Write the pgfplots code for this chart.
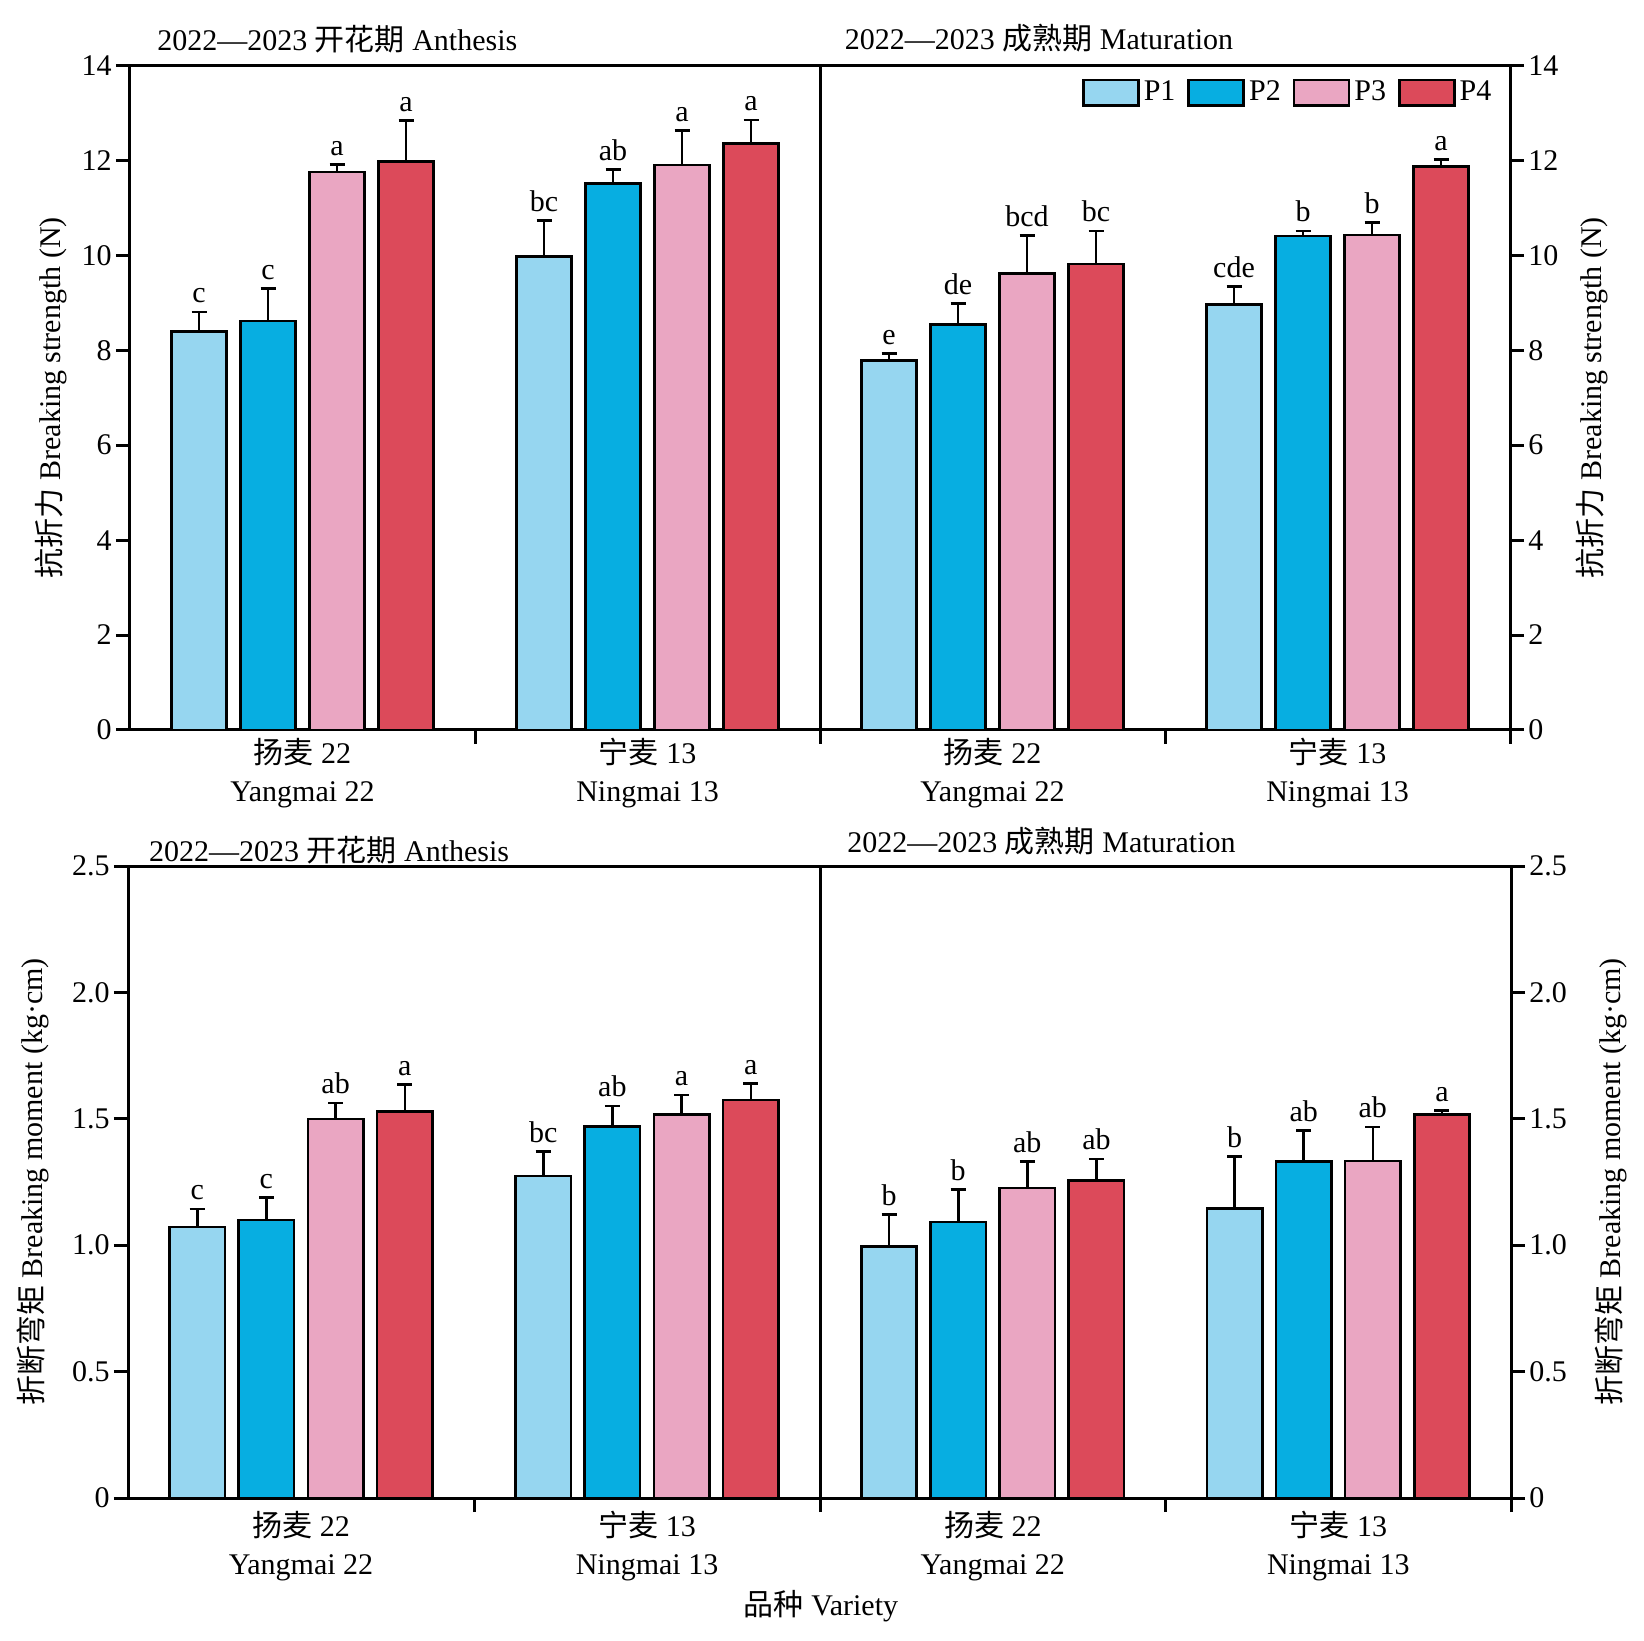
\documentclass[border=0pt]{standalone}
\usepackage{fontspec}
\setmainfont{Liberation Serif}
\newfontfamily\cjk{Noto Sans CJK SC}
\usepackage{pgfplots}
\usepackage{pgfplotstable}
\pgfplotsset{compat=1.18}
\definecolor{cA}{RGB}{150,214,240}
\definecolor{cB}{RGB}{7,174,225}
\definecolor{cC}{RGB}{234,166,194}
\definecolor{cD}{RGB}{220,74,90}

% Breaking strength, anthesis
\pgfplotstableread{
x p1 e1 l1 p2 e2 l2 p3 e3 l3 p4 e4 l4
0 8.40 0.41 c 8.62 0.68 c 11.76 0.16 a 11.98 0.86 a
1 9.97 0.77 bc 11.51 0.30 ab 11.90 0.73 a 12.36 0.49 a
}\tSA
% Breaking strength, maturation
\pgfplotstableread{
x p1 e1 l1 p2 e2 l2 p3 e3 l3 p4 e4 l4
0 7.79 0.14 e 8.54 0.45 de 9.62 0.80 bcd 9.82 0.69 bc
1 8.96 0.38 cde 10.41 0.10 b 10.43 0.26 b 11.87 0.15 a
}\tSM
% Breaking moment, anthesis
\pgfplotstableread{
x p1 e1 l1 p2 e2 l2 p3 e3 l3 p4 e4 l4
0 1.072 0.072 c 1.099 0.089 c 1.499 0.064 ab 1.528 0.108 a
1 1.273 0.097 bc 1.470 0.081 ab 1.517 0.077 a 1.575 0.065 a
}\tMA
% Breaking moment, maturation
\pgfplotstableread{
x p1 e1 l1 p2 e2 l2 p3 e3 l3 p4 e4 l4
0 0.995 0.126 b 1.092 0.129 b 1.227 0.104 ab 1.256 0.085 ab
1 1.144 0.206 b 1.331 0.122 ab 1.333 0.135 ab 1.516 0.016 a
}\tMM

\pgfplotsset{
  boxlegend/.style={legend image code/.code={\draw[##1,line width=1.3pt] (0pt,-6.3pt) rectangle (27.5pt,6.3pt);}},
  panel/.style={
    scale only axis, ybar, xmin=-0.5, xmax=1.5, ymin=0,
    axis line style={line width=1.5pt},
    every tick/.append style={line width=1.5pt, black},
    tick align=outside, major tick length=7pt,
    xtick={0.5,1.5}, xticklabels={},
    extra x ticks={0,1},
    extra x tick labels={{\cjk 扬麦} 22\\Yangmai 22,{\cjk 宁麦} 13\\Ningmai 13},
    extra x tick style={major tick length=0pt, xticklabel style={align=center, font=\fontsize{15}{19}\selectfont}},
    xtick pos=bottom,
    every node near coord/.append style={shift={(axis direction cs:0,\myerr)}, inner sep=3.8pt},
    yticklabel style={inner sep=2pt},
    error bars/error bar style={line width=1.3pt, black, solid},
    error bars/error mark options={rotate=90, mark size=3.75pt, line width=1.3pt, black, solid},
  },
  lefty/.style={ytick pos=left, yticklabel pos=left},
  righty/.style={ytick pos=right, yticklabel pos=right},
  strength/.style={ymax=14, ytick={0,2,4,6,8,10,12,14}, yticklabels={0,2,4,6,8,10,12,14},
    ylabel={{\cjk 抗折力} Breaking strength (N)}},
  moment/.style={ymax=2.5, ytick={0,0.5,1,1.5,2,2.5}, yticklabels={0,0.5,1.0,1.5,2.0,2.5},
    ylabel={{\cjk 折断弯矩} Breaking moment (kg·cm)}},
}

\newcommand{\series}[4]{%
  \addplot[fill=#3, draw=black, line width=1.3pt, bar shift=#4, bar width=0.16, boxlegend,
    nodes near coords, point meta=explicit symbolic,
    visualization depends on={\thisrow{e#2}\as\myerr},
    error bars/.cd, y dir=plus, y explicit]
    table[x=x, y=p#2, y error=e#2, meta=l#2]{#1};}

\newcommand{\allseries}[1]{%
  \series{#1}{1}{cA}{-0.3}
  \series{#1}{2}{cB}{-0.1}
  \series{#1}{3}{cC}{0.1}
  \series{#1}{4}{cD}{0.3}}

\begin{document}
\fontsize{15}{18}\selectfont%
\begin{tikzpicture}
\useasboundingbox (0,0) rectangle (822pt,820pt);

% top left
\begin{axis}[panel, lefty, strength, at={(65pt,455pt)}, anchor=south west,
  width=345pt, height=332.25pt,
  ylabel style={at={(axis description cs:-0.1145,0.5)}, anchor=center},
  title={2022—2023 {\cjk 开花期} Anthesis},
  title style={at={(axis description cs:0.0245,1)}, anchor=base west, yshift=1.3pt},
  extra x tick style={xticklabel style={yshift=1pt}}]
\allseries{\tSA}
\end{axis}

% top right
\begin{axis}[panel, righty, strength, at={(410pt,455pt)}, anchor=south west,
  width=345pt, height=332.25pt,
  ylabel style={at={(axis description cs:1.119,0.5)}, anchor=center},
  title={2022—2023 {\cjk 成熟期} Maturation},
  title style={at={(axis description cs:0.021,1)}, anchor=base west, yshift=1.85pt},
  legend style={at={(axis description cs:0.988,0.99)}, anchor=north east, draw=none, fill=none,
    legend columns=4, /tikz/every even column/.append style={column sep=4pt}},
  extra x tick style={xticklabel style={yshift=1pt}}]
\allseries{\tSM}
\legend{P1,P2,P3,P4}
\end{axis}

% bottom left
\begin{axis}[panel, lefty, moment, at={(64pt,71pt)}, anchor=south west,
  width=346pt, height=316pt,
  ylabel style={at={(axis description cs:-0.138,0.5)}, anchor=center},
  title={2022—2023 {\cjk 开花期} Anthesis},
  title style={at={(axis description cs:0.0155,1)}, anchor=base west, yshift=-3.5pt},
  xlabel={{\cjk 品种} Variety},
  xlabel style={at={(axis description cs:1,0)}, anchor=center, yshift=-54pt, xshift=0.5pt},
  extra x tick style={xticklabel style={yshift=-1.5pt}}]
\allseries{\tMA}
\end{axis}

% bottom right
\begin{axis}[panel, righty, moment, at={(410pt,71pt)}, anchor=south west,
  width=345.5pt, height=316pt,
  ylabel style={at={(axis description cs:1.1447,0.5)}, anchor=center},
  title={2022—2023 {\cjk 成熟期} Maturation},
  title style={at={(axis description cs:0.0245,1)}, anchor=base west, yshift=0.75pt},
  extra x tick style={xticklabel style={yshift=-1.5pt}}]
\allseries{\tMM}
\end{axis}
\end{tikzpicture}
\end{document}
